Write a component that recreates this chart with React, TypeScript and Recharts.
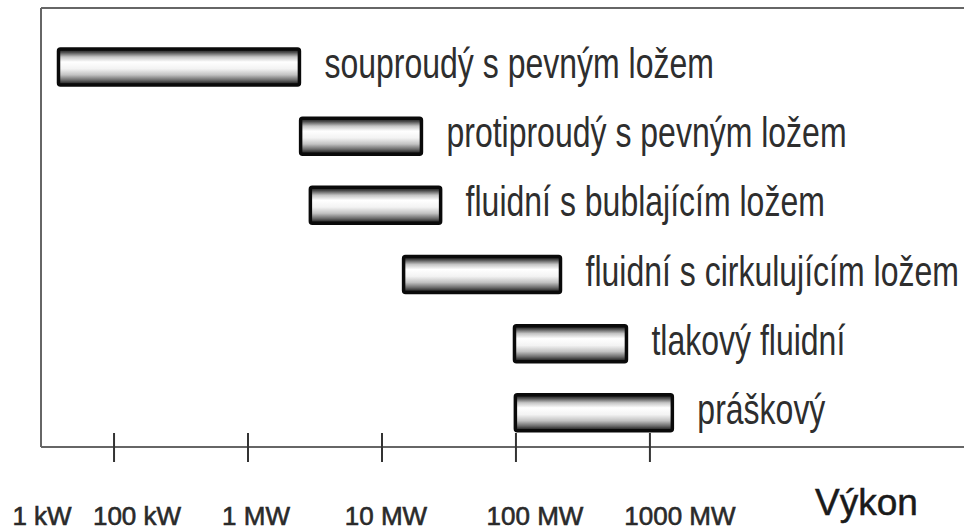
import React from "react"
import { Bar, BarChart, CartesianGrid, Label, LabelList, XAxis, YAxis } from "recharts"

// kategorie (typ spalování) a rozsah výkonu ve wattech
const categories = [
  "souproudý s pevným ložem",
  "protiproudý s pevným ložem",
  "fluidní s bublajícím ložem",
  "fluidní s cirkulujícím ložem",
  "tlakový fluidní",
  "práškový",
]
const lowW = [3.85e4, 2.47e6, 2.92e6, 1.45e7, 9.75e7, 9.9e7]
const highW = [2.42e6, 1.97e7, 2.74e7, 2.15e8, 6.68e8, 1.47e9]

// osa x: počátek je popsán "1 kW", dále dekády
const axisStart = 2.85e4
const axisEnd = 2.45e11
const tickValues = [axisStart, 1e5, 1e6, 1e7, 1e8, 1e9]
const tickLabels = ["1 kW", "100 kW", "1 MW", "10 MW", "100 MW", "1000 MW"]
const tickLabelShift = [1, 23, 8, 4, 19, 30]
const axisTitle = "Výkon"

const data = categories.map((name, i) => ({
  name,
  range: [lowW[i], highW[i]],
}))

const font = "Liberation Sans, Arial, sans-serif"

const AxisTick = (props: any) => {
  const { x, y, index } = props
  return (
    <g>
      {index > 0 && (
        <line x1={x} x2={x} y1={y - 14} y2={y + 15} stroke="#333" strokeWidth={2} />
      )}
      <text
        x={x + tickLabelShift[index]}
        y={y + 78}
        textAnchor="middle"
        fontSize={26}
        fill="#2a2a2a"
        stroke="#2a2a2a"
        strokeWidth={0.6}
        fontFamily={font}
      >
        {tickLabels[index]}
      </text>
    </g>
  )
}

const AxisTitle = (props: any) => {
  const { viewBox } = props
  return (
    <text
      x={viewBox.x + 774}
      y={viewBox.y + 68}
      fontSize={37}
      fill="#1a1a1a"
      stroke="#1a1a1a"
      strokeWidth={0.5}
      fontFamily={font}
    >
      {axisTitle}
    </text>
  )
}

const BarLabel = (props: any) => {
  const { x, y, width, height, index } = props
  const tx = x + width + 25
  const ty = y + height / 2 + 11
  return (
    <text
      transform={`translate(${tx},${ty}) scale(1,1.32)`}
      fontSize={32}
      fill="#2e2e2e"
      fontFamily={font}
    >
      {categories[index]}
    </text>
  )
}

export default function App() {
  return (
    <div style={{ position: "absolute", left: 0, top: 0, width: 964, height: 531, overflow: "hidden", background: "#fff" }}>
      <BarChart
        width={980}
        height={531}
        data={data}
        layout="vertical"
        margin={{ top: 8, right: 10, left: 0, bottom: 0 }}
      >
        <defs>
          <linearGradient id="tube" x1="0" y1="0" x2="0" y2="1">
            <stop offset="0%" stopColor="#111111" />
            <stop offset="9%" stopColor="#4a4a4a" />
            <stop offset="22%" stopColor="#c4c4c4" />
            <stop offset="36%" stopColor="#ffffff" />
            <stop offset="55%" stopColor="#f3f3f3" />
            <stop offset="72%" stopColor="#c2c2c2" />
            <stop offset="86%" stopColor="#6e6e6e" />
            <stop offset="95%" stopColor="#2e2e2e" />
            <stop offset="100%" stopColor="#111111" />
          </linearGradient>
        </defs>
        <CartesianGrid
          vertical={false}
          horizontalCoordinatesGenerator={({ offset }: any) => [offset.top]}
          stroke="#666"
          strokeWidth={2}
        />
        <XAxis
          type="number"
          scale="log"
          domain={[axisStart, axisEnd]}
          allowDataOverflow
          ticks={tickValues}
          interval={0}
          height={84}
          tickSize={0}
          tickMargin={0}
          tickLine={false}
          tick={<AxisTick />}
          axisLine={{ stroke: "#666", strokeWidth: 2 }}
        >
          <Label content={<AxisTitle />} />
        </XAxis>
        <YAxis
          type="category"
          dataKey="name"
          width={41}
          tick={false}
          tickLine={false}
          padding={{ top: 24, bottom: 0 }}
          axisLine={{ stroke: "#666", strokeWidth: 2 }}
        />
        <Bar
          dataKey="range"
          barSize={36}
          fill="url(#tube)"
          stroke="#0a0a0a"
          strokeWidth={3.5}
          radius={2}
          isAnimationActive={false}
        >
          <LabelList dataKey="name" content={<BarLabel />} />
        </Bar>
      </BarChart>
    </div>
  )
}
